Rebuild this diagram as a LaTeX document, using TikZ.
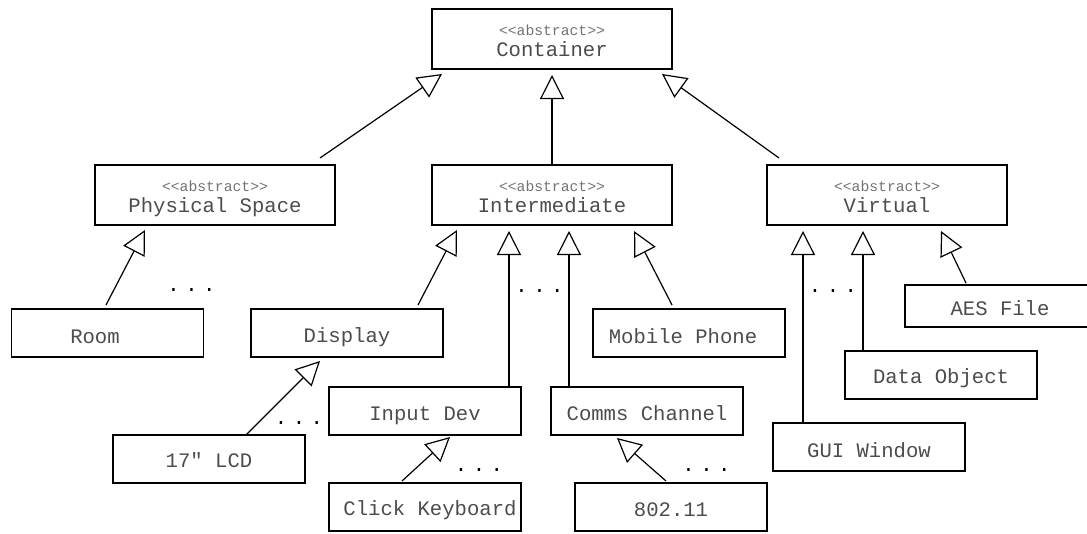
\documentclass[tikz,border=0pt]{standalone}
\usepackage{fontspec}
\newfontfamily\umlmono[Ligatures=TeXOff]{Liberation Mono}
\usetikzlibrary{arrows.meta}
\begin{document}
\begin{tikzpicture}[x=1pt,y=-1pt,
 cbox/.style={draw=black, line width=1.5pt, inner sep=0pt, outer sep=0pt, rectangle},
 absbox/.style={cbox, minimum width=240pt, minimum height=60pt},
 leafbox/.style={cbox, minimum width=192pt, minimum height=48pt},
 nametext/.style={anchor=base, inner sep=0pt, font=\umlmono\fontsize{20.6}{24}\selectfont, text=black!70},
 abstext/.style={anchor=base, inner sep=0pt, font=\umlmono\fontsize{14.7}{17}\selectfont, text=black!55},
 dotstext/.style={anchor=base, inner sep=0pt, font=\umlmono\fontsize{20.6}{24}\selectfont},
 gen/.style={line width=1.2pt, -{Triangle[open, length=24pt, width=24pt, line width=1.2pt]}}
]
\useasboundingbox (0,0) rectangle (1087,533);

% boxes
\node[absbox] (container) at (552,39) {};
\node[absbox] (physical) at (215,195) {};
\node[absbox] (intermediate) at (552,195) {};
\node[absbox] (virtual) at (887,195) {};
\node[leafbox] (room) at (107.5,333) {};
\node[leafbox] (display) at (347,333) {};
\node[leafbox] (mobile) at (689,333) {};
\node[cbox, minimum width=190pt, minimum height=42pt] (aes) at (1000,306) {};
\node[leafbox] (data) at (941,375) {};
\node[leafbox] (gui) at (869,447) {};
\node[leafbox] (inputdev) at (425,411) {};
\node[leafbox] (comms) at (647,411) {};
\node[leafbox] (lcd) at (209,459) {};
\node[leafbox] (keyboard) at (425,507) {};
\node[leafbox] (wifi) at (671,507) {};

% texts
\node[abstext] (containerA) at (552,35) {<<abstract>>};
\node[nametext] (containerN) at (552,56) {Container};
\node[abstext] (physicalA) at (215,191) {<<abstract>>};
\node[nametext] (physicalN) at (215,212) {Physical Space};
\node[abstext] (intermediateA) at (552,191) {<<abstract>>};
\node[nametext] (intermediateN) at (552,212) {Intermediate};
\node[abstext] (virtualA) at (887,191) {<<abstract>>};
\node[nametext] (virtualN) at (887,212) {Virtual};
\node[nametext] (roomN) at (95,343) {Room};
\node[nametext] (displayN) at (347,342) {Display};
\node[nametext] (mobileN) at (683,343) {Mobile Phone};
\node[nametext] (aesN) at (1000,315) {AES File};
\node[nametext] (dataN) at (941,383) {Data Object};
\node[nametext] (guiN) at (869,457) {GUI Window};
\node[nametext] (inputdevN) at (425,420) {Input Dev};
\node[nametext] (commsN) at (647,420) {Comms Channel};
\node[nametext] (lcdN) at (209,467) {17" LCD};
\node[nametext] (keyboardN) at (430,515) {Click Keyboard};
\node[nametext] (wifiN) at (671,516) {802.11};

% ellipses
\newcommand\umldots{.\hspace{5.5pt}.\hspace{5.5pt}.}
\node[dotstext] (dots1) at (191.5,291.5) {\umldots};
\node[dotstext] (dots2) at (539.5,292.5) {\umldots};
\node[dotstext] (dots3) at (833,292.5) {\umldots};
\node[dotstext] (dots4) at (299,424.5) {\umldots};
\node[dotstext] (dots5) at (479,471.5) {\umldots};
\node[dotstext] (dots6) at (706.5,471.5) {\umldots};

% generalisations
\draw[gen] ([xshift=105pt,yshift=7pt]physical.north) -- ([xshift=-110pt,yshift=-5pt]container.south);
\draw[gen] (intermediate.north) -- ([yshift=-6pt]container.south);
\draw[gen] ([xshift=-108pt,yshift=7pt]virtual.north) -- ([xshift=110pt,yshift=-5pt]container.south);

\draw[gen] ([xshift=-1.5pt,yshift=4pt]room.north) -- ([xshift=-70pt,yshift=-5pt]physical.south);

\draw[gen] ([xshift=71pt,yshift=4pt]display.north) -- ([xshift=-95pt,yshift=-5pt]intermediate.south);
\draw[gen] ([xshift=84pt]inputdev.north) -- ([xshift=-43pt,yshift=-6pt]intermediate.south);
\draw[gen] ([xshift=-78pt]comms.north) -- ([xshift=17pt,yshift=-6pt]intermediate.south);
\draw[gen] ([xshift=-17pt,yshift=4pt]mobile.north) -- ([xshift=82pt,yshift=-6pt]intermediate.south);

\draw[gen] ([xshift=-66pt]gui.north) -- ([xshift=-84pt,yshift=-6pt]virtual.south);
\draw[gen] ([xshift=-78pt]data.north) -- ([xshift=-24pt,yshift=-6pt]virtual.south);
\draw[gen] ([xshift=-34pt,yshift=2pt]aes.north) -- ([xshift=54pt,yshift=-6pt]virtual.south);

\draw[gen] ([xshift=37pt]lcd.north) -- ([xshift=-27pt,yshift=-4pt]display.south);
\draw[gen] ([xshift=-23pt,yshift=2pt]keyboard.north) -- ([xshift=25pt,yshift=-2pt]inputdev.south);
\draw[gen] ([xshift=-5pt,yshift=2pt]wifi.north) -- ([xshift=-30pt,yshift=-3pt]comms.south);
\end{tikzpicture}
\end{document}
